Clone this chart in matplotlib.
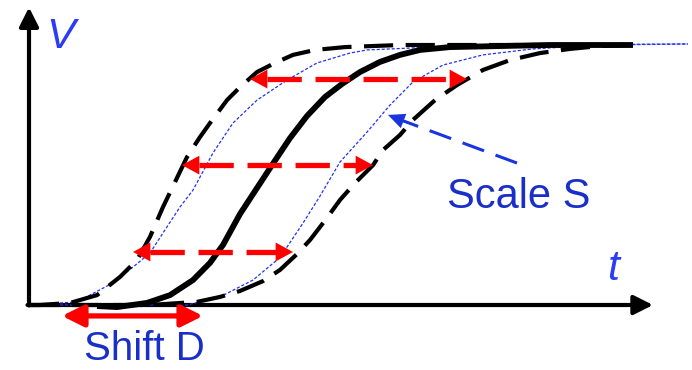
import matplotlib
matplotlib.use("Agg")
import matplotlib.pyplot as plt

# Reference curve V(t): thick solid line
ref_t = [0.67, 0.87, 1.17, 1.40, 1.63, 1.80, 1.93, 2.10, 2.27, 2.42, 2.60, 2.77, 2.95,
         3.12, 3.30, 3.50, 3.70, 3.90, 4.20, 4.70, 5.20, 6.03]
ref_v = [-0.004, -0.008, 0.008, 0.038, 0.096, 0.162, 0.231, 0.350, 0.450, 0.538, 0.642,
         0.727, 0.800, 0.850, 0.896, 0.935, 0.962, 0.981, 0.992, 0.996, 1.0, 1.0]

# Shifted copies (black dashed)
early_t = [0.0, 0.10, 0.40, 0.67, 0.90, 1.07, 1.20, 1.33, 1.45, 1.57, 1.70, 1.80, 1.97,
           2.10, 2.27, 2.45, 2.63, 2.85, 3.15, 3.70, 6.00]
early_v = [0.0, 0.0, 0.008, 0.038, 0.108, 0.173, 0.262, 0.377, 0.473, 0.569, 0.646,
           0.700, 0.788, 0.838, 0.896, 0.931, 0.962, 0.981, 0.992, 1.0, 1.0]
late_t = [0.0, 1.20, 1.67, 1.90, 2.10, 2.33, 2.50, 2.67, 2.80, 2.97, 3.10, 3.25, 3.43,
          3.53, 3.70, 3.83, 4.05, 4.27, 4.53, 4.80, 5.10, 5.40, 5.70, 6.00]
late_v = [0.0, 0.0, 0.012, 0.031, 0.054, 0.092, 0.135, 0.196, 0.250, 0.335, 0.404,
          0.469, 0.538, 0.596, 0.654, 0.712, 0.788, 0.846, 0.904, 0.942, 0.969, 0.985,
          0.996, 1.0]

# Scaled copies (thin blue dotted)
fast_t = [0.0, 0.47, 0.83, 1.03, 1.20, 1.33, 1.50, 1.63, 1.83, 2.03, 2.27, 2.57, 2.87,
          3.20, 3.37, 4.03, 4.70, 6.58]
fast_v = [0.0, 0.012, 0.085, 0.146, 0.200, 0.277, 0.377, 0.442, 0.585, 0.700, 0.788,
          0.865, 0.931, 0.969, 0.981, 0.992, 1.0, 1.004]
slow_t = [0.0, 1.57, 1.90, 2.23, 2.47, 2.57, 2.73, 2.90, 3.10, 3.37, 3.60, 3.83, 4.13,
          4.53, 5.03, 5.70, 6.58]
slow_v = [0.0, 0.0, 0.031, 0.096, 0.173, 0.223, 0.315, 0.419, 0.550, 0.665, 0.769,
          0.858, 0.923, 0.962, 0.985, 1.0, 1.004]

# Horizontal scale arrows: level V and the two end times
scale_rows_v = [0.869, 0.538, 0.204]
scale_rows_t0 = [2.20, 1.52, 1.03]
scale_rows_t1 = [4.37, 3.43, 2.63]

# Shift arrow below the time axis
shift_v = -0.042
shift_t = [0.32, 1.73]

# Pointer for the scale label
pointer_tail = (4.87, 0.546)
pointer_tip = (3.58, 0.731)

RED = "#ff0000"
BLUE_LINE = "#2233ee"
BLUE_TEXT = "#1a2fc8"
BLUE_AXIS = "#2a3cf5"

fig = plt.figure(figsize=(6.92, 3.70), dpi=100)
ax = fig.add_axes([0, 0, 1, 1])
ax.set_xlim(-0.30, 6.62)
ax.set_ylim(-0.25, 1.1731)
ax.axis("off")

# Axes with arrow heads
ax.annotate("", xy=(-0.01, 1.145), xytext=(-0.01, -0.002),
            arrowprops=dict(arrowstyle="-|>,head_length=11.5,head_width=5.8",
                            mutation_scale=1, lw=3.0, color="black",
                            shrinkA=0, shrinkB=0))
ax.annotate("", xy=(6.23, 0.0), xytext=(-0.025, 0.0),
            arrowprops=dict(arrowstyle="-|>,head_length=11.5,head_width=5.8",
                            mutation_scale=1, lw=3.0, color="black",
                            shrinkA=0, shrinkB=0))

# Curves
ax.plot(slow_t, slow_v, color=BLUE_LINE, lw=0.9, dashes=(2.5, 1.5), zorder=3)
ax.plot(fast_t, fast_v, color=BLUE_LINE, lw=0.9, dashes=(2.5, 1.5), zorder=3)
ax.plot(early_t, early_v, color="black", lw=3.0, dashes=(7.0, 3.0), zorder=4,
        solid_capstyle="butt", dash_capstyle="butt")
ax.plot(late_t, late_v, color="black", lw=3.0, dashes=(7.0, 3.0), zorder=4,
        solid_capstyle="butt", dash_capstyle="butt")
ax.plot(ref_t, ref_v, color="black", lw=4.2, zorder=5, solid_capstyle="butt")

# Dashed double-headed red arrows
head_len_t = 0.17
for v, t0, t1 in zip(scale_rows_v, scale_rows_t0, scale_rows_t1):
    ax.plot([t0 + head_len_t, t1 - head_len_t], [v, v], color=RED, lw=3.8,
            dashes=(6.5, 2.6), dash_capstyle="butt", zorder=6)
    for tip, back in ((t0, t0 + head_len_t), (t1, t1 - head_len_t)):
        ax.annotate("", xy=(tip, v), xytext=(back, v),
                    arrowprops=dict(arrowstyle="-|>,head_length=12.5,head_width=6.8",
                                    mutation_scale=1, lw=0, color=RED,
                                    shrinkA=0, shrinkB=0), zorder=6)

# Solid shift arrow
ax.annotate("", xy=(shift_t[0], shift_v), xytext=(shift_t[1], shift_v),
            arrowprops=dict(arrowstyle="<|-|>,head_length=13,head_width=6.5",
                            mutation_scale=1, lw=3.8, color=RED,
                            shrinkA=0, shrinkB=0), zorder=6)

# Dashed blue pointer to the scaled curve
ax.plot([pointer_tail[0], pointer_tip[0] + 0.14], [pointer_tail[1], pointer_tip[1] - 0.021],
        color="#1a35dd", lw=2.2, dashes=(7.5, 4.0), dash_capstyle="butt", zorder=6)
ax.annotate("", xy=pointer_tip, xytext=(pointer_tip[0] + 0.16, pointer_tip[1] - 0.024),
            arrowprops=dict(arrowstyle="-|>,head_length=12,head_width=5.5",
                            mutation_scale=1, lw=0, color="#1a35dd",
                            shrinkA=0, shrinkB=0), zorder=6)

# Labels
ax.text(0.31, 1.031, "V", color=BLUE_AXIS, fontsize=31, fontstyle="italic",
        family="Liberation Sans", ha="center", va="center")
ax.text(5.83, 0.138, "t", color=BLUE_AXIS, fontsize=31, fontstyle="italic",
        family="Liberation Sans", ha="center", va="center")
ax.text(4.17, 0.373, "Scale S", color=BLUE_TEXT, fontsize=30,
        family="Liberation Sans", ha="left", va="baseline")
ax.text(0.54, -0.212, "Shift D", color=BLUE_TEXT, fontsize=29,
        family="Liberation Sans", ha="left", va="baseline")

fig.savefig("out.png", dpi=100)
